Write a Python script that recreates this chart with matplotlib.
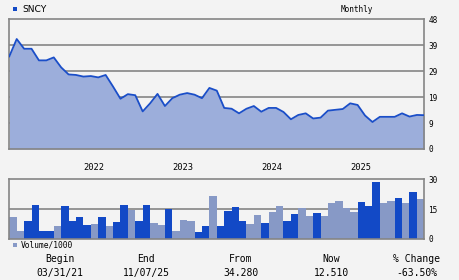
#!/usr/bin/env python3
# coding: utf-8

import matplotlib
matplotlib.use('Agg')
import matplotlib.pyplot as plt
from matplotlib.patches import Rectangle
from matplotlib.transforms import blended_transform_factory

# monthly closes, 03/2021 .. 11/2025
price = [34.28, 40.7, 37.1, 37.1, 32.8, 32.8, 33.9, 30.2, 27.6, 27.4,
         26.8, 27.0, 26.5, 27.4, 23.1, 18.6, 20.3, 19.9, 13.9, 16.9,
         20.4, 15.9, 18.8, 20.1, 20.7, 20.1, 18.8, 22.6, 21.6, 15.2,
         14.9, 13.2, 14.9, 15.9, 13.8, 15.2, 15.2, 13.7, 11.0, 12.6,
         13.2, 11.3, 11.6, 14.2, 14.5, 14.8, 16.9, 16.3, 12.4, 10.0,
         11.9, 11.9, 11.9, 13.2, 12.0, 12.6, 12.51]

# volume / 1000, one bar per month
volume = [11.0, 3.9, 8.9, 17.0, 3.9, 3.9, 6.4, 16.5, 8.9, 11.0,
          6.9, 7.4, 11.0, 6.4, 8.4, 17.0, 14.5, 8.9, 17.0, 7.9,
          6.9, 15.0, 3.9, 9.4, 8.9, 3.4, 6.4, 21.6, 6.4, 14.0,
          16.0, 8.9, 7.4, 12.0, 7.9, 13.5, 16.5, 8.9, 12.5, 15.5,
          11.5, 13.0, 11.5, 18.0, 19.0, 15.5, 13.5, 18.5, 16.5, 28.7,
          18.0, 19.0, 20.6, 18.0, 23.6, 20.1]
vol_dark = 'LLDDDDLDDDDLDLDDLDDLLDLLLDDLDDDDLLDLLDDLLDLLLLLDDDLLDLDL'

years = [2022, 2023, 2024, 2025]
price_ticks = [0, 9.6, 19.2, 28.8, 38.4, 48]
price_labels = ['0', '9', '19', '29', '39', '48']
vol_ticks = [0, 15, 30]

summary = [('Begin', '03/31/21'), ('End', '11/07/25'), ('From', '34.280'),
           ('Now', '12.510'), ('% Change', '-63.50%')]

BG = '#f3f3f3'
GRID = '#858585'
LINE = '#1a4ec8'
FILL = '#9caedb'
DARK = '#1249c6'
LIGHT = '#8799c6'
MONO = 'DejaVu Sans Mono'

W, H = 460, 280
fig = plt.figure(figsize=(W / 100, H / 100), dpi=100, facecolor=BG)


def rect(x0, y0, x1, y1):
    """pixel box (top-left origin) -> figure fraction"""
    return [x0 / W, 1 - y1 / H, (x1 - x0) / W, (y1 - y0) / H]


ax = fig.add_axes(rect(9.3, 19.3, 424.3, 149))
axv = fig.add_axes(rect(9.3, 179.3, 424.3, 239))

for a in (ax, axv):
    a.set_facecolor(BG)
    for s in a.spines.values():
        s.set_color(GRID)
        s.set_linewidth(1.2)
    a.set_xticks([])
    a.yaxis.tick_right()
    a.tick_params(axis='y', length=0, pad=3, labelsize=5.6,
                  labelcolor='black')
    for t in a.get_yticklabels():
        t.set_family(MONO)

# price pane
x = list(range(len(price)))
n = len(price) - 1
for v in price_ticks[1:-1]:
    ax.axhline(v, color=GRID, lw=1.2, zorder=1)
ax.fill_between(x, 0, price, color=FILL, lw=0, zorder=2)
ax.plot(x, price, color=LINE, lw=1.3, zorder=3)
ax.set_xlim(0, n)
ax.set_ylim(0, 48)
ax.set_yticks(price_ticks)
ax.set_yticklabels(price_labels, family=MONO, fontsize=5.6)

tr = blended_transform_factory(ax.transData, ax.transAxes)
for yr in years:
    ax.text(12 * (yr - 2021) - 0.6, -0.145, str(yr), transform=tr,
            ha='center', va='center', fontsize=6.3, family=MONO)

# volume pane
axv.axhline(15, color=GRID, lw=1.2, zorder=1)
cols = [DARK if c == 'D' else LIGHT for c in vol_dark]
axv.bar([i + 0.5 for i in range(len(volume))], volume, width=1.0,
        color=cols, lw=0, zorder=2)
axv.set_xlim(0, len(volume))
axv.set_ylim(0, 30)
axv.set_yticks(vol_ticks)
axv.set_yticklabels([str(v) for v in vol_ticks], family=MONO, fontsize=5.6)

# legends / captions
fig.add_artist(Rectangle((13 / W, 1 - 11 / H), 4 / W, 4 / H,
                         transform=fig.transFigure, color=DARK, lw=0))
fig.text(22 / W, 1 - 9 / H, 'SNCY', ha='left', va='center', fontsize=6.6,
         family='DejaVu Sans')
fig.text(357 / W, 1 - 9 / H, 'Monthly', ha='center', va='center',
         fontsize=5.6, family=MONO)
fig.add_artist(Rectangle((13 / W, 1 - 247 / H), 4 / W, 4 / H,
                         transform=fig.transFigure, color=LIGHT, lw=0))
fig.text(21 / W, 1 - 245 / H, 'Volume/1000', ha='left', va='center',
         fontsize=5.7, family=MONO)

for cx, (head, val) in zip([60, 146, 241, 331, 417], summary):
    fig.text(cx / W, 1 - 259 / H, head, ha='center', va='center',
             fontsize=7, family=MONO)
    fig.text(cx / W, 1 - 273 / H, val, ha='center', va='center',
             fontsize=7, family=MONO)

fig.savefig('out.png', dpi=100, facecolor=BG)
